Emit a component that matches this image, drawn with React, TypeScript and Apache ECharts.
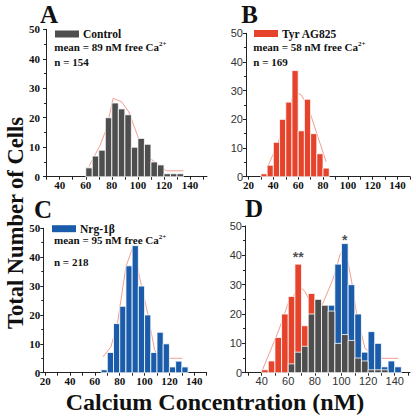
import React, { useEffect, useRef } from "react";
import * as echarts from "echarts";

// ---------- data ----------
const BIN_WIDTH = 5;

// Panel A – Control
const controlBins = [60, 65, 70, 75, 80, 85, 90, 95, 100, 105, 110, 115, 120, 125, 130];
const controlCounts = [3, 7, 9, 20, 25, 23, 21, 10, 13, 11, 5, 4, 1, 1, 1];
const controlFitX = [62.5, 71, 76, 81, 87.5, 93, 100.5, 108, 117, 122, 135];
const controlFitY = [3.5, 10.7, 16.4, 26.6, 25.4, 22, 13, 6.8, 3.4, 2, 2];

// Panel B – Tyr AG825
const tyrBins = [30, 35, 40, 45, 50, 55, 60, 65, 70, 75, 80];
const tyrCounts = [1, 4, 12, 20, 26, 37, 16, 27, 15, 8, 3];
const tyrFitX = [35.5, 44, 52, 57, 62.5, 68, 74.5, 82.5];
const tyrFitY = [3.5, 12, 23, 29.6, 28.5, 24.4, 15.7, 5.2];

// Panel C – Nrg-1β
const nrgBins = [65, 70, 75, 80, 85, 90, 95, 100, 105, 110, 115, 120, 125, 130];
const nrgCounts = [1, 7, 17, 23, 37, 44, 30, 20, 7, 14, 10, 2, 4, 2];
const nrgFitX = [66.5, 73, 78.5, 85, 91, 96, 102.5, 108, 112, 130.5];
const nrgFitY = [5.5, 9, 18, 36.7, 44, 33, 20.6, 8, 5, 5];

// Panel D – overlay
const dRedBins = [40, 45, 50, 55, 60, 65, 70, 75, 80, 85, 90];
const dRedCounts = [1, 4, 12, 20, 26, 37, 16, 27, 15, 8, 3];
const dBlueBins = [75, 80, 85, 90, 95, 100, 105, 110, 115, 120, 125, 130, 135, 140];
const dBlueCounts = [1, 7, 17, 23, 37, 44, 30, 20, 7, 14, 10, 2, 4, 2];
const dGreyBins = [60, 65, 70, 75, 80, 85, 90, 95, 100, 105, 110, 115, 120, 125, 130];
const dGreyCounts = [3, 7, 9, 20, 25, 23, 21, 10, 13, 11, 5, 4, 1, 1, 1];
const dFitX = [40, 52.5, 60, 68.9, 72.6, 77.7, 83.9, 93.9, 98.9, 102.7, 107.7, 111.5, 117.7, 127.7, 142.8];
const dFitY = [0.3, 14, 23.7, 29.4, 27.6, 23.1, 21.4, 32.2, 40.2, 43, 31, 19.7, 8.3, 4.9, 4.9];
const dMarkers = [
  { x: 67.5, y: 37, text: "**" },
  { x: 102.5, y: 43, text: "*" },
];

const ticksFrom30 = [30, 40, 50, 60, 70, 80, 90, 100, 110, 120, 130, 140, 150];
const ticksFrom20 = [20, 30, 40, 50, 60, 70, 80, 90, 100, 110, 120, 130, 140, 150];
const labels40 = [40, 60, 80, 100, 120, 140];
const labels20 = [20, 40, 60, 80, 100, 120, 140];

// ---------- styles ----------
const GREY = "#4e4e4e";
const RED = "#e6432c";
const BLUE = "#1b5caa";
const FIT = "#ef9382";
const SERIF = '"Liberation Serif", "Times New Roman", serif';
const SANS = '"Liberation Sans", Arial, sans-serif';
const AXIS = "#222";

const serifLabel = { fontFamily: SERIF, fontWeight: "bold", fontSize: 11, color: "#111" };
const sansLabel = { fontFamily: SANS, fontWeight: "normal", fontSize: 11, color: "#333" };

function barSeries(name: string, bins: number[], counts: number[], color: string, axis: number, z: number) {
  return {
    type: "custom",
    name,
    xAxisIndex: axis,
    yAxisIndex: axis,
    z,
    itemStyle: { color },
    data: bins.map((b, i) => [b, b + BIN_WIDTH, counts[i]]),
    encode: { x: [0, 1], y: 2 },
    renderItem: (_params: any, api: any) => {
      const p0 = api.coord([api.value(0), api.value(2)]);
      const p1 = api.coord([api.value(1), 0]);
      return {
        type: "rect",
        shape: { x: p0[0], y: p0[1], width: p1[0] - p0[0], height: p1[1] - p0[1] },
        style: { fill: color, stroke: "#ffffff", lineWidth: 0.8 },
      };
    },
  };
}

function fitSeries(xs: number[], ys: number[], axis: number) {
  return {
    type: "line",
    xAxisIndex: axis,
    yAxisIndex: axis,
    z: 1,
    symbol: "none",
    silent: true,
    lineStyle: { color: FIT, width: 0.9 },
    data: xs.map((x, i) => [x, ys[i]]),
  };
}

function xAxis(gridIndex: number, min: number, max: number, ticks: number[], labels: number[], font: any) {
  return {
    type: "value",
    gridIndex,
    min,
    max,
    axisLine: { show: true, onZero: false, lineStyle: { color: AXIS, width: 1 } },
    axisTick: { show: true, customValues: ticks, length: 3, lineStyle: { color: AXIS } },
    axisLabel: { customValues: labels, margin: 3, ...font },
    splitLine: { show: false },
  };
}

function yAxis(gridIndex: number, font: any, margin: number) {
  return {
    type: "value",
    gridIndex,
    min: 0,
    max: 50,
    interval: 10,
    axisLine: { show: true, lineStyle: { color: AXIS, width: 1 } },
    axisTick: { show: true, length: 3, lineStyle: { color: AXIS } },
    minorTick: { show: true, splitNumber: 2, length: 2, lineStyle: { color: AXIS } },
    axisLabel: { margin, ...font },
    splitLine: { show: false },
    minorSplitLine: { show: false },
  };
}

function legendFor(name: string, left: number, top: number) {
  return {
    data: [name],
    left,
    top,
    padding: 0,
    itemWidth: 24,
    itemHeight: 7,
    icon: "rect",
    selectedMode: false,
    textStyle: { fontFamily: SERIF, fontWeight: "bold", fontSize: 11.5, color: "#111", padding: [0, 0, 0, -1] },
  };
}

const richMean = {
  m: { fontFamily: SERIF, fontWeight: "bold", fontSize: 11, fill: "#111", lineHeight: 13 },
  s: { fontFamily: SERIF, fontWeight: "bold", fontSize: 7, fill: "#111", verticalAlign: "top", lineHeight: 7 },
};

function infoTexts(x: number, yMean: number, yN: number, mean: number, n: number) {
  return [
    {
      type: "text",
      x,
      y: yMean,
      style: {
        text: `{m|mean = ${mean} nM free Ca}{s|2+}`,
        rich: richMean,
        verticalAlign: "middle",
        align: "left",
      },
    },
    {
      type: "text",
      x,
      y: yN,
      style: {
        text: `n = ${n}`,
        font: `bold 11px ${SERIF}`,
        fill: "#111",
        verticalAlign: "middle",
        align: "left",
      },
    },
  ];
}

function panelLetter(letter: string, x: number, y: number) {
  return {
    type: "text",
    x,
    y,
    style: {
      text: letter,
      font: `bold 25px ${SERIF}`,
      lineHeight: 16,
      fill: "#111",
      align: "center",
      verticalAlign: "middle",
    },
  };
}

export default function App() {
  const ref = useRef<HTMLDivElement>(null);

  useEffect(() => {
    if (!ref.current) return;
    const chart = echarts.init(ref.current, undefined, { renderer: "svg" });
    chart.setOption({
      animation: false,
      backgroundColor: "#ffffff",
      grid: [
        { left: 46, top: 29.3, width: 161, height: 147.4 },
        { left: 246, top: 33.3, width: 164, height: 143.4 },
        { left: 43.3, top: 228.3, width: 163.4, height: 144.4 },
        { left: 245, top: 226, width: 165, height: 146.7 },
      ],
      xAxis: [
        xAxis(0, 29.5, 153, ticksFrom30, labels40, serifLabel),
        xAxis(1, 18, 150, ticksFrom20, labels20, serifLabel),
        xAxis(2, 18.5, 150, ticksFrom20, labels20, serifLabel),
        xAxis(3, 27.5, 151.5, ticksFrom30, labels40, sansLabel),
      ],
      yAxis: [
        yAxis(0, serifLabel, 6),
        yAxis(1, sansLabel, 3),
        yAxis(2, serifLabel, 3),
        yAxis(3, sansLabel, 3),
      ],
      legend: [
        legendFor("Control", 55, 28),
        legendFor("Tyr AG825", 254, 27.5),
        legendFor("Nrg-1β", 52, 222.7),
      ],
      series: [
        fitSeries(controlFitX, controlFitY, 0),
        barSeries("Control", controlBins, controlCounts, GREY, 0, 2),
        fitSeries(tyrFitX, tyrFitY, 1),
        barSeries("Tyr AG825", tyrBins, tyrCounts, RED, 1, 2),
        fitSeries(nrgFitX, nrgFitY, 2),
        barSeries("Nrg-1β", nrgBins, nrgCounts, BLUE, 2, 2),
        fitSeries(dFitX, dFitY, 3),
        barSeries("Tyr AG825 (D)", dRedBins, dRedCounts, RED, 3, 2),
        barSeries("Nrg-1β (D)", dBlueBins, dBlueCounts, BLUE, 3, 3),
        barSeries("Control (D)", dGreyBins, dGreyCounts, GREY, 3, 4),
        {
          type: "scatter",
          xAxisIndex: 3,
          yAxisIndex: 3,
          symbolSize: 0,
          silent: true,
          z: 6,
          data: dMarkers.map((m) => ({
            value: [m.x, m.y],
            label: {
              show: true,
              formatter: m.text,
              position: "top",
              distance: 0,
              fontFamily: SANS,
              fontWeight: "bold",
              fontSize: 14,
              color: "#222",
            },
          })),
        },
      ],
      graphic: [
        panelLetter("A", 49, 14),
        panelLetter("B", 249.5, 14),
        panelLetter("C", 43, 209),
        panelLetter("D", 254, 208),
        ...infoTexts(54.3, 46.7, 61.7, 89, 154),
        ...infoTexts(253.3, 46.7, 61.7, 58, 169),
        ...infoTexts(54, 240, 261.7, 95, 218),
        {
          type: "text",
          x: 15,
          y: 223,
          rotation: Math.PI / 2,
          style: {
            text: "Total Number of Cells",
            font: `bold 22.5px ${SERIF}`,
            fill: "#111",
            align: "center",
            verticalAlign: "middle",
          },
        },
        {
          type: "text",
          x: 215,
          y: 402,
          style: {
            text: "Calcium Concentration (nM)",
            font: `bold 24px ${SERIF}`,
            fill: "#111",
            align: "center",
            verticalAlign: "middle",
          },
        },
      ],
    });
    return () => chart.dispose();
  }, []);

  return (
    <div
      ref={ref}
      style={{ position: "fixed", left: 0, top: 0, width: 416, height: 418, background: "#fff" }}
    />
  );
}
